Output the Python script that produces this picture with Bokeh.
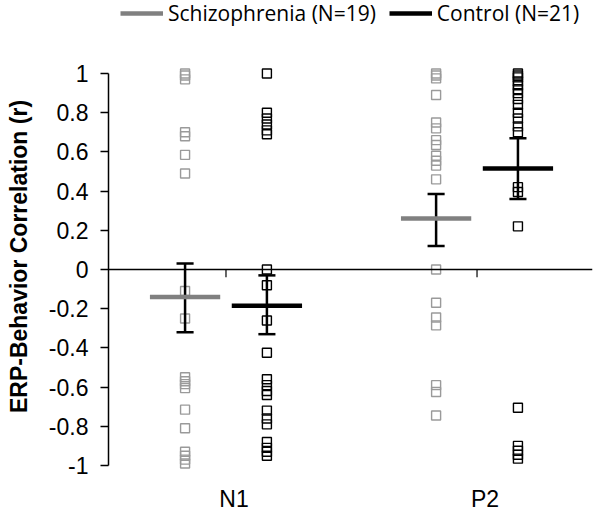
from bokeh.plotting import figure
from bokeh.models import (Range1d, FixedTicker, NumeralTickFormatter, Span, Legend,
                          LegendItem, ColumnDataSource)
from bokeh.core.properties import value
from bokeh.embed import file_html
from bokeh.resources import INLINE

# ---------------- data ----------------
categories = ["N1", "P2"]
cat_x = [1, 2]
groups = ["Schizophrenia (N=19)", "Control (N=21)"]

schiz_n1 = [1.0, 0.99, 0.97, 0.70, 0.68, 0.585, 0.49, -0.11, -0.25,
            -0.55, -0.57, -0.585, -0.605, -0.715, -0.81, -0.93, -0.95, -0.97, -0.99]
ctrl_n1 = [1.0, 0.80, 0.77, 0.74, 0.71, 0.69, 0.0, -0.08, -0.26, -0.425,
           -0.56, -0.59, -0.62, -0.64, -0.72, -0.76, -0.79, -0.88, -0.91, -0.93, -0.95]
schiz_p2 = [1.0, 0.99, 0.975, 0.89, 0.75, 0.72, 0.66, 0.635, 0.58, 0.555, 0.53,
            0.46, 0.0, -0.17, -0.245, -0.285, -0.59, -0.625, -0.745]
ctrl_p2 = [1.0, 0.99, 0.98, 0.96, 0.94, 0.92, 0.90, 0.87, 0.84, 0.80, 0.77, 0.73, 0.70,
           0.42, 0.395, 0.22, -0.705, -0.90, -0.925, -0.945, -0.965]

schiz_mean = [-0.14, 0.26]
schiz_lo = [-0.32, 0.12]
schiz_hi = [0.03, 0.385]
ctrl_mean = [-0.185, 0.515]
ctrl_lo = [-0.33, 0.36]
ctrl_hi = [-0.03, 0.67]

y_ticks = [-1, -0.8, -0.6, -0.4, -0.2, 0, 0.2, 0.4, 0.6, 0.8, 1]
y_title = "ERP-Behavior Correlation (r)"

# ---------------- style ----------------
OFF = 0.163
HALF_BAR = 0.14
HALF_CAP = 0.034
LABEL_SHIFT = 0.032
CAT_LABEL_Y = -1.173
GRAY_MK = "#9a9a9a"
GRAY_BAR = "#808080"
FONT = "Liberation Sans"

p = figure(width=600, height=517, output_backend="svg", toolbar_location=None,
           x_range=Range1d(0.532, 2.460), y_range=Range1d(-1.2398, 1.3724),
           min_border_left=108, min_border_right=8, min_border_top=0, min_border_bottom=5)
p.outline_line_color = None
p.grid.visible = False
p.background_fill_color = "white"
p.xaxis.visible = False

# y axis
ya = p.yaxis[0]
ya.ticker = FixedTicker(ticks=y_ticks)
ya.formatter = NumeralTickFormatter(format="0.[0]")
ya.bounds = (-1, 1)
ya.axis_line_color = "black"
ya.axis_line_width = 1.5
ya.major_tick_line_color = "black"
ya.major_tick_line_width = 1.5
ya.major_tick_in = 0
ya.major_tick_out = 8
ya.minor_tick_line_color = None
ya.major_label_text_font = FONT
ya.major_label_text_font_size = "23px"
ya.major_label_text_color = "black"
ya.major_label_standoff = 12
ya.axis_label = y_title
ya.axis_label_text_font = FONT
ya.axis_label_text_font_size = "23px"
ya.axis_label_text_font_style = "bold"
ya.axis_label_text_color = "black"
ya.axis_label_standoff = 14

# zero line
p.add_layout(Span(location=0, dimension="width", line_color="black", line_width=1.5))
# small category ticks on zero line
p.segment(x0=cat_x, y0=[0, 0], x1=cat_x, y1=[-0.04, -0.04], line_color="black", line_width=1.2)

# category labels
lab_src = ColumnDataSource(dict(x=[c + LABEL_SHIFT for c in cat_x],
                                y=[CAT_LABEL_Y] * len(cat_x), t=categories))
p.text(x="x", y="y", text="t", source=lab_src, text_font=value(FONT),
       text_font_size="23px", text_align="center", text_baseline="middle", text_color="black")

# scatter points
for vals, cx, col in [(schiz_n1, cat_x[0] - OFF, GRAY_MK), (ctrl_n1, cat_x[0] + OFF, "black"),
                      (schiz_p2, cat_x[1] - OFF, GRAY_MK), (ctrl_p2, cat_x[1] + OFF, "black")]:
    p.scatter([cx] * len(vals), vals, marker="square", size=9, fill_color=None,
              line_color=col, line_width=1.4)

sx = [c - OFF for c in cat_x]
cx_ = [c + OFF for c in cat_x]

# error bars
for xs, lo, hi in [(sx, schiz_lo, schiz_hi), (cx_, ctrl_lo, ctrl_hi)]:
    p.segment(x0=xs, y0=lo, x1=xs, y1=hi, line_color="black", line_width=2.5)
    p.segment(x0=[x - HALF_CAP for x in xs], y0=lo, x1=[x + HALF_CAP for x in xs], y1=lo,
              line_color="black", line_width=2.5)
    p.segment(x0=[x - HALF_CAP for x in xs], y0=hi, x1=[x + HALF_CAP for x in xs], y1=hi,
              line_color="black", line_width=2.5)

# mean bars
r_s = p.segment(x0=[x - HALF_BAR for x in sx], y0=schiz_mean, x1=[x + HALF_BAR for x in sx],
                y1=schiz_mean, line_color=GRAY_BAR, line_width=4.5)
r_c = p.segment(x0=[x - HALF_BAR for x in cx_], y0=ctrl_mean, x1=[x + HALF_BAR for x in cx_],
                y1=ctrl_mean, line_color="black", line_width=4.5)

legend = Legend(items=[LegendItem(label=groups[0], renderers=[r_s]),
                       LegendItem(label=groups[1], renderers=[r_c])],
                orientation="horizontal", location=(12, 485),
                glyph_width=43, glyph_height=20, label_height=20, label_standoff=5,
                spacing=13, padding=0, margin=0,
                border_line_color=None, background_fill_alpha=0,
                label_text_font="Open Sans", label_text_font_size="21px", label_text_color="black")
p.add_layout(legend, "center")

open("out.html", "w").write(file_html(p, INLINE))
